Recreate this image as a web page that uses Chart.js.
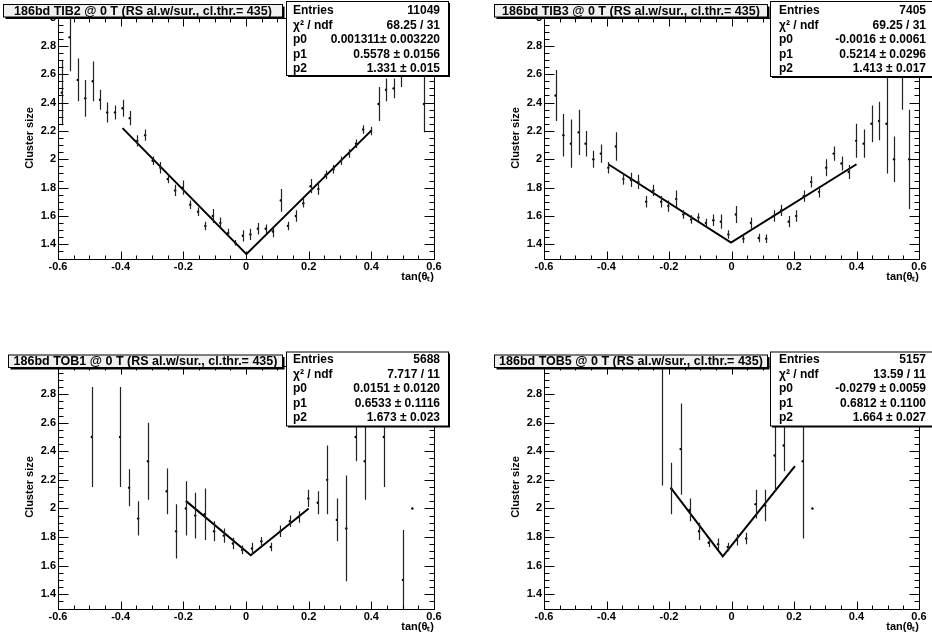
<!DOCTYPE html>
<html>
<head>
<meta charset="utf-8">
<script src="https://cdn.jsdelivr.net/npm/chart.js@4.4.0/dist/chart.umd.min.js"></script>
<style>
  body { margin: 0; background: #fff; }
  #page { position: relative; width: 932px; height: 641px; background: #fff; }
  canvas { position: absolute; }
</style>
</head>
<body>
<div id="page">
  <canvas id="tib2" width="466" height="320" style="left:0;top:0"></canvas>
  <canvas id="tib3" width="466" height="320" style="left:466px;top:0"></canvas>
  <canvas id="tob1" width="466" height="321" style="left:0;top:320px"></canvas>
  <canvas id="tob5" width="466" height="321" style="left:466px;top:320px"></canvas>
</div>
<script>
const xTicks = [-0.6, -0.4, -0.2, 0, 0.2, 0.4, 0.6];
const yTicks = [1.4, 1.6, 1.8, 2, 2.2, 2.4, 2.6, 2.8, 3];
const statNames = ['Entries', 'χ² / ndf', 'p0', 'p1', 'p2'];

// TIB2
const tib2X = [-0.588, -0.563, -0.537, -0.513, -0.489, -0.466, -0.443, -0.418, -0.394, -0.371,
  -0.347, -0.322, -0.298, -0.273, -0.250, -0.226, -0.202, -0.178, -0.153, -0.130,
  -0.106, -0.082, -0.057, -0.034, -0.010, 0.014, 0.038, 0.063, 0.086, 0.111,
  0.134, 0.159, 0.183, 0.206, 0.231, 0.254, 0.279, 0.303, 0.328, 0.351,
  0.374, 0.399, 0.423, 0.447, 0.471, 0.496, 0.568];
const tib2Y = [2.47, 2.86, 2.56, 2.43, 2.55, 2.42, 2.33, 2.33, 2.36, 2.29,
  2.13, 2.17, 1.99, 1.94, 1.86, 1.78, 1.80, 1.68, 1.63, 1.53,
  1.60, 1.55, 1.48, 1.41, 1.46, 1.47, 1.51, 1.51, 1.49, 1.71,
  1.53, 1.60, 1.69, 1.81, 1.79, 1.89, 1.93, 1.99, 2.04, 2.11,
  2.21, 2.20, 2.39, 2.49, 2.50, 2.61, 2.39];
const tib2Err = [0.23, 0.24, 0.15, 0.13, 0.14, 0.07, 0.07, 0.05, 0.06, 0.05,
  0.04, 0.04, 0.03, 0.04, 0.03, 0.04, 0.05, 0.03, 0.03, 0.03,
  0.05, 0.04, 0.03, 0.02, 0.04, 0.04, 0.04, 0.03, 0.04, 0.08,
  0.03, 0.04, 0.03, 0.05, 0.04, 0.03, 0.03, 0.03, 0.03, 0.03,
  0.03, 0.03, 0.12, 0.08, 0.07, 0.10, 0.20];
const tib2FitX = [-0.394, 0.0013, 0.399];
const tib2FitY = [2.22, 1.331, 2.20];
const tib2Stats = ['11049', '68.25 / 31', '0.001311\u00b1 0.003220', '0.5578 \u00b1 0.0156', '1.331 \u00b1 0.015'];

// TIB3
const tib3X = [-0.563, -0.538, -0.514, -0.489, -0.467, -0.442, -0.418, -0.394, -0.370, -0.346,
  -0.322, -0.298, -0.273, -0.250, -0.225, -0.202, -0.177, -0.154, -0.129, -0.106,
  -0.082, -0.058, -0.034, -0.010, 0.014, 0.038, 0.062, 0.087, 0.111, 0.135,
  0.159, 0.183, 0.207, 0.231, 0.255, 0.280, 0.303, 0.327, 0.352, 0.375,
  0.399, 0.423, 0.448, 0.472, 0.496, 0.520, 0.545, 0.569];
const tib3Y = [2.45, 2.17, 2.11, 2.19, 2.11, 2.00, 2.04, 1.94, 2.09, 1.86,
  1.855, 1.84, 1.70, 1.78, 1.70, 1.67, 1.72, 1.61, 1.575, 1.59,
  1.55, 1.57, 1.56, 1.47, 1.61, 1.44, 1.55, 1.445, 1.44, 1.60,
  1.64, 1.56, 1.60, 1.74, 1.84, 1.77, 1.94, 2.04, 1.97, 1.91,
  2.13, 2.11, 2.25, 2.27, 2.25, 2.00, 2.60, 2.00];
const tib3Err = [0.18, 0.15, 0.17, 0.16, 0.09, 0.06, 0.065, 0.04, 0.10, 0.04,
  0.05, 0.05, 0.04, 0.04, 0.04, 0.04, 0.06, 0.03, 0.03, 0.03,
  0.03, 0.04, 0.05, 0.03, 0.06, 0.03, 0.04, 0.03, 0.03, 0.04,
  0.04, 0.04, 0.04, 0.04, 0.04, 0.04, 0.06, 0.05, 0.05, 0.05,
  0.12, 0.10, 0.13, 0.135, 0.35, 0.16, 0.25, 0.35];
const tib3FitX = [-0.394, -0.0016, 0.400];
const tib3FitY = [1.965, 1.413, 1.965];
const tib3Stats = ['7405', '69.25 / 31', '-0.0016 \u00b1 0.0061', '0.5214 \u00b1 0.0296', '1.413 \u00b1 0.017'];

// TOB1
const tob1X = [-0.492, -0.402, -0.373, -0.344, -0.313, -0.253, -0.223, -0.192, -0.162, -0.132,
  -0.102, -0.071, -0.042, -0.012, 0.019, 0.049, 0.079, 0.110, 0.140, 0.169,
  0.199, 0.229, 0.259, 0.290, 0.320, 0.350, 0.379, 0.440, 0.501, 0.531];
const tob1Y = [2.50, 2.50, 2.145, 1.93, 2.33, 2.12, 1.84, 2.00, 1.95, 1.96,
  1.84, 1.81, 1.755, 1.71, 1.72, 1.77, 1.73, 1.84, 1.91, 1.94,
  2.07, 2.04, 2.20, 1.92, 1.86, 2.50, 2.33, 2.50, 1.50, 2.00];
const tob1Err = [0.35, 0.35, 0.13, 0.12, 0.27, 0.16, 0.19, 0.19, 0.16, 0.18,
  0.07, 0.05, 0.04, 0.03, 0.04, 0.03, 0.03, 0.04, 0.04, 0.04,
  0.06, 0.08, 0.24, 0.15, 0.37, 0.17, 0.27, 0.35, 0.35, 0];
const tob1FitX = [-0.192, 0.0151, 0.200];
const tob1FitY = [2.053, 1.673, 2.00];
const tob1Stats = ['5688', '7.717 / 11', '0.0151 \u00b1 0.0120', '0.6533 \u00b1 0.1116', '1.673 \u00b1 0.023'];

// TOB5
const tob5X = [-0.223, -0.193, -0.163, -0.134, -0.104, -0.073, -0.043, -0.012, 0.017, 0.047,
  0.077, 0.108, 0.138, 0.167, 0.228, 0.259];
const tob5Y = [3.10, 2.14, 2.415, 1.99, 1.84, 1.76, 1.75, 1.73, 1.78, 1.79,
  2.03, 2.02, 2.37, 2.44, 2.33, 2.00];
const tob5Err = [0.94, 0.18, 0.32, 0.08, 0.06, 0.03, 0.04, 0.03, 0.04, 0.04,
  0.10, 0.11, 0.25, 0.18, 0.54, 0];
const tob5FitX = [-0.193, -0.0279, 0.203];
const tob5FitY = [2.14, 1.664, 2.296];
const tob5Stats = ['5157', '13.59 / 11', '-0.0279 \u00b1 0.0059', '0.6812 \u00b1 0.1100', '1.664 \u00b1 0.027'];

const FONT = '"Liberation Sans", Arial, Helvetica, sans-serif';

const panels = [
  { id: 'tib2', title: '186bd TIB2 @ 0 T (RS al.w/sur., cl.thr.= 435)',
    xs: tib2X, ys: tib2Y, errs: tib2Err, fitX: tib2FitX, fitY: tib2FitY, stats: tib2Stats,
    area: { l: 58, r: 434, t: 17.5, b: 258.5 }, h: 320,
    titleBox: { x: 3.5, y: 4.5, w: 279, h: 12.5 },
    statBox: { x: 286.5, y: 1.5, w: 162, h: 74, tl: 293, tr: 440, ty: 11, dy: 14.5 } },
  { id: 'tib3', title: '186bd TIB3 @ 0 T (RS al.w/sur., cl.thr.= 435)',
    xs: tib3X, ys: tib3Y, errs: tib3Err, fitX: tib3FitX, fitY: tib3FitY, stats: tib3Stats,
    area: { l: 78, r: 453, t: 17.5, b: 258.5 }, h: 320,
    titleBox: { x: 28.5, y: 4.5, w: 273, h: 12.5 },
    statBox: { x: 304.5, y: 1.5, w: 162, h: 75, tl: 313, tr: 460, ty: 11, dy: 14.5 } },
  { id: 'tob1', title: '186bd TOB1 @ 0 T (RS al.w/sur., cl.thr.= 435)',
    xs: tob1X, ys: tob1Y, errs: tob1Err, fitX: tob1FitX, fitY: tob1FitY, stats: tob1Stats,
    area: { l: 58, r: 434, t: 45.5, b: 288.5 }, h: 321,
    titleBox: { x: 8.5, y: 35, w: 274, h: 12.5 },
    statBox: { x: 286.5, y: 32, w: 162, h: 74, tl: 293, tr: 440, ty: 40, dy: 14.5 } },
  { id: 'tob5', title: '186bd TOB5 @ 0 T (RS al.w/sur., cl.thr.= 435)',
    xs: tob5X, ys: tob5Y, errs: tob5Err, fitX: tob5FitX, fitY: tob5FitY, stats: tob5Stats,
    area: { l: 78, r: 453, t: 45.5, b: 288.5 }, h: 321,
    titleBox: { x: 28.5, y: 35, w: 273, h: 12.5 },
    statBox: { x: 304.5, y: 32, w: 162, h: 74, tl: 313, tr: 460, ty: 40, dy: 14.5 } }
];

function fmt(v) {
  return String(Math.round(v * 10) / 10);
}

// root style: error bars, inward ticks, frame, title and stat boxes
function rootPlugin(p) {
  return {
    id: 'rootStyle',
    afterDatasetsDraw(chart) {
      const { ctx, chartArea: a, scales: { x, y } } = chart;
      ctx.save();
      ctx.beginPath();
      ctx.rect(a.left, a.top, a.right - a.left, a.bottom - a.top);
      ctx.clip();
      ctx.strokeStyle = '#222';
      ctx.lineWidth = 1.2;
      p.xs.forEach((v, i) => {
        if (!p.errs[i]) return;
        const px = Math.round(x.getPixelForValue(v)) + 0.5;
        ctx.beginPath();
        ctx.moveTo(px, y.getPixelForValue(p.ys[i] - p.errs[i]));
        ctx.lineTo(px, y.getPixelForValue(p.ys[i] + p.errs[i]));
        ctx.stroke();
      });
      ctx.restore();
    },
    afterDraw(chart) {
      const { ctx, chartArea: a, scales: { x, y } } = chart;
      ctx.save();
      ctx.strokeStyle = '#000';
      ctx.lineWidth = 1;
      const L = Math.round(a.left) + 0.5, R = Math.round(a.right) + 0.5;
      const T = Math.round(a.top) + 0.5, B = Math.round(a.bottom) + 0.5;
      ctx.beginPath();
      for (let k = -12; k <= 12; k++) {
        const px = Math.round(x.getPixelForValue(k * 0.05)) + 0.5;
        const len = k % 4 === 0 ? 8 : 4;
        ctx.moveTo(px, B); ctx.lineTo(px, B - len);
        ctx.moveTo(px, T); ctx.lineTo(px, T + len);
      }
      for (let k = 27; k <= 59; k++) {
        const py = Math.round(y.getPixelForValue(k * 0.05)) + 0.5;
        const len = k % 4 === 0 ? 10 : 5;
        ctx.moveTo(L, py); ctx.lineTo(L + len, py);
        ctx.moveTo(R, py); ctx.lineTo(R - len, py);
      }
      ctx.stroke();
      ctx.strokeRect(L, T, R - L, B - T);

      // title box
      const t = p.titleBox;
      ctx.fillStyle = '#000';
      ctx.fillRect(t.x + 2, t.y + 2, t.w, t.h);
      ctx.fillStyle = '#f0f0f0';
      ctx.fillRect(t.x, t.y, t.w, t.h);
      ctx.strokeRect(t.x, t.y, t.w, t.h);
      ctx.fillStyle = '#000';
      ctx.font = 'bold 12.5px ' + FONT;
      ctx.textAlign = 'center';
      ctx.textBaseline = 'middle';
      ctx.fillText(p.title, t.x + t.w / 2, t.y + t.h / 2 + 0.5);

      // stats box
      const s = p.statBox;
      ctx.fillRect(s.x + 1.5, s.y + 1.5, s.w, s.h);
      ctx.fillStyle = '#fff';
      ctx.fillRect(s.x, s.y, s.w, s.h);
      ctx.strokeRect(s.x, s.y, s.w, s.h);
      ctx.fillStyle = '#000';
      ctx.font = 'bold 12px ' + FONT;
      statNames.forEach((name, i) => {
        const ty = s.ty + i * s.dy;
        ctx.textAlign = 'left';
        ctx.fillText(name, s.tl, ty);
        ctx.textAlign = 'right';
        ctx.fillText(p.stats[i], s.tr, ty);
      });
      ctx.restore();
    }
  };
}

panels.forEach(p => {
  const yW = 38, xH = 30;
  const tickFont = { family: FONT, size: 11, weight: 'bold' };
  new Chart(document.getElementById(p.id), {
    data: {
      datasets: [
        {
          type: 'scatter',
          data: p.xs.map((v, i) => ({ x: v, y: p.ys[i] })),
          pointRadius: 1.2,
          pointBorderWidth: 0,
          pointBackgroundColor: '#000',
          clip: 0
        },
        {
          type: 'line',
          data: p.fitX.map((v, i) => ({ x: v, y: p.fitY[i] })),
          borderColor: '#000',
          borderWidth: 2,
          pointRadius: 0,
          tension: 0,
          fill: false,
          clip: 0
        }
      ]
    },
    options: {
      responsive: false,
      animation: false,
      events: [],
      layout: {
        padding: {
          left: p.area.l - yW,
          right: 466 - p.area.r,
          top: p.area.t,
          bottom: p.h - p.area.b - xH
        }
      },
      plugins: { legend: { display: false }, tooltip: { enabled: false } },
      scales: {
        x: {
          type: 'linear', min: -0.6, max: 0.6,
          afterBuildTicks: s => { s.ticks = xTicks.map(v => ({ value: v })); },
          afterFit: s => { s.height = xH; },
          grid: { display: false, drawTicks: false },
          border: { display: false },
          ticks: { padding: 2, color: '#000', font: tickFont, autoSkip: false, maxRotation: 0, callback: fmt },
          title: { display: true, text: 'tan(θₜ)', align: 'end', color: '#000',
            font: tickFont, padding: { top: 0, bottom: 5 } }
        },
        y: {
          type: 'linear', min: 1.3, max: 3.0,
          afterBuildTicks: s => { s.ticks = yTicks.map(v => ({ value: v })); },
          afterFit: s => { s.width = yW; },
          grid: { display: false, drawTicks: false },
          border: { display: false },
          ticks: { padding: 2, color: '#000', font: tickFont, autoSkip: false, callback: fmt },
          title: { display: true, text: 'Cluster size', color: '#000',
            font: tickFont, padding: { top: 3.4, bottom: 0 } }
        }
      }
    },
    plugins: [rootPlugin(p)]
  });
});
</script>
</body>
</html>
